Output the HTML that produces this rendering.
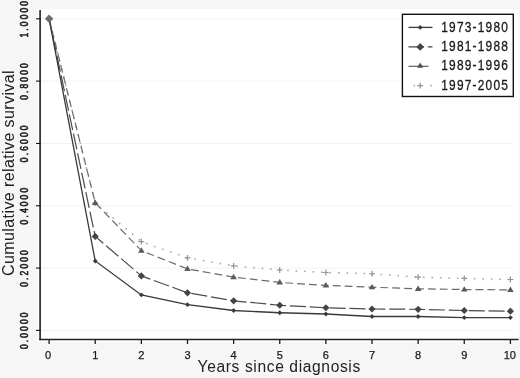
<!DOCTYPE html>
<html><head><meta charset="utf-8"><title>Cumulative relative survival</title>
<style>
html,body{margin:0;padding:0;background:#f6f6f6;}
svg{display:block;}
text{font-family:"Liberation Sans",Arial,sans-serif;fill:#1a1a1a;stroke:#1a1a1a;stroke-width:0.6px;}
text.t{stroke:none;fill:#222;}
text.lg{stroke-width:0.3px;}
text.xt{stroke-width:0.25px;}
</style></head>
<body>
<svg width="520" height="378" viewBox="0 0 520 378">
<rect x="0" y="0" width="520" height="378" fill="#f6f6f6"/>
<rect x="37.5" y="9" width="482.5" height="333" fill="#ffffff"/>
<rect x="518.6" y="9" width="1.4" height="333" fill="#f8f8f8"/>
<line x1="512.7" x2="512.7" y1="96" y2="339" stroke="#fafafa" stroke-width="1"/>
<line x1="41" x2="512.7" y1="330.40" y2="330.40" stroke="#f2f2f2" stroke-width="1"/>
<line x1="41" x2="512.7" y1="268.08" y2="268.08" stroke="#f2f2f2" stroke-width="1"/>
<line x1="41" x2="512.7" y1="205.76" y2="205.76" stroke="#f2f2f2" stroke-width="1"/>
<line x1="41" x2="512.7" y1="143.44" y2="143.44" stroke="#f2f2f2" stroke-width="1"/>
<line x1="41" x2="512.7" y1="81.12" y2="81.12" stroke="#f2f2f2" stroke-width="1"/>
<line x1="41" x2="512.7" y1="18.80" y2="18.80" stroke="#f2f2f2" stroke-width="1"/>
<polyline points="49.10,18.80 95.23,203.00 141.36,241.70 187.49,257.90 233.62,265.80 279.75,270.00 325.88,272.50 372.01,273.75 418.14,277.20 464.27,278.40 510.40,279.50" fill="none" stroke="#a8a8a8" stroke-width="1.6" stroke-dasharray="1.6,6.9" stroke-dashoffset="0"/>
<polyline points="49.10,18.80 95.23,202.80 141.36,250.60 187.49,268.90 233.62,277.10 279.75,282.40 325.88,285.40 372.01,287.20 418.14,288.80 464.27,289.50 510.40,289.90" fill="none" stroke="#6a6a6a" stroke-width="1.2" stroke-dasharray="7.8,4.1" stroke-dashoffset="0.01"/>
<polyline points="49.10,18.80 95.23,236.40 141.36,275.90 187.49,292.80 233.62,300.80 279.75,305.25 325.88,307.75 372.01,309.00 418.14,309.30 464.27,310.50 510.40,311.20" fill="none" stroke="#4a4a4a" stroke-width="1.2" stroke-dasharray="16.1,3.78" stroke-dashoffset="1.79"/>
<polyline points="49.10,18.80 95.23,261.00 141.36,294.90 187.49,304.70 233.62,310.50 279.75,312.75 325.88,314.00 372.01,316.50 418.14,316.50 464.27,317.60 510.40,317.60" fill="none" stroke="#3a3a3a" stroke-width="1.3"/>
<path d="M92.33,203.00H98.13M95.23,200.10V205.90" stroke="#929292" stroke-width="1.2" fill="none"/>
<path d="M95.23,199.50L98.53,204.90L91.93,204.90Z" fill="#5a5a5a"/>
<path d="M95.23,232.80L98.83,236.40L95.23,240.00L91.63,236.40Z" fill="#444444"/>
<path d="M95.23,258.60L97.63,261.00L95.23,263.40L92.83,261.00Z" fill="#3a3a3a"/>
<path d="M138.46,241.70H144.26M141.36,238.80V244.60" stroke="#929292" stroke-width="1.2" fill="none"/>
<path d="M141.36,247.30L144.66,252.70L138.06,252.70Z" fill="#5a5a5a"/>
<path d="M141.36,272.30L144.96,275.90L141.36,279.50L137.76,275.90Z" fill="#444444"/>
<path d="M141.36,292.50L143.76,294.90L141.36,297.30L138.96,294.90Z" fill="#3a3a3a"/>
<path d="M184.59,257.90H190.39M187.49,255.00V260.80" stroke="#929292" stroke-width="1.2" fill="none"/>
<path d="M187.49,265.60L190.79,271.00L184.19,271.00Z" fill="#5a5a5a"/>
<path d="M187.49,289.20L191.09,292.80L187.49,296.40L183.89,292.80Z" fill="#444444"/>
<path d="M187.49,302.30L189.89,304.70L187.49,307.10L185.09,304.70Z" fill="#3a3a3a"/>
<path d="M230.72,265.80H236.52M233.62,262.90V268.70" stroke="#929292" stroke-width="1.2" fill="none"/>
<path d="M233.62,273.80L236.92,279.20L230.32,279.20Z" fill="#5a5a5a"/>
<path d="M233.62,297.20L237.22,300.80L233.62,304.40L230.02,300.80Z" fill="#444444"/>
<path d="M233.62,308.10L236.02,310.50L233.62,312.90L231.22,310.50Z" fill="#3a3a3a"/>
<path d="M276.85,270.00H282.65M279.75,267.10V272.90" stroke="#929292" stroke-width="1.2" fill="none"/>
<path d="M279.75,279.10L283.05,284.50L276.45,284.50Z" fill="#5a5a5a"/>
<path d="M279.75,301.65L283.35,305.25L279.75,308.85L276.15,305.25Z" fill="#444444"/>
<path d="M279.75,310.35L282.15,312.75L279.75,315.15L277.35,312.75Z" fill="#3a3a3a"/>
<path d="M322.98,272.50H328.78M325.88,269.60V275.40" stroke="#929292" stroke-width="1.2" fill="none"/>
<path d="M325.88,282.10L329.18,287.50L322.58,287.50Z" fill="#5a5a5a"/>
<path d="M325.88,304.15L329.48,307.75L325.88,311.35L322.28,307.75Z" fill="#444444"/>
<path d="M325.88,311.60L328.28,314.00L325.88,316.40L323.48,314.00Z" fill="#3a3a3a"/>
<path d="M369.11,273.75H374.91M372.01,270.85V276.65" stroke="#929292" stroke-width="1.2" fill="none"/>
<path d="M372.01,283.90L375.31,289.30L368.71,289.30Z" fill="#5a5a5a"/>
<path d="M372.01,305.40L375.61,309.00L372.01,312.60L368.41,309.00Z" fill="#444444"/>
<path d="M372.01,314.10L374.41,316.50L372.01,318.90L369.61,316.50Z" fill="#3a3a3a"/>
<path d="M415.24,277.20H421.04M418.14,274.30V280.10" stroke="#929292" stroke-width="1.2" fill="none"/>
<path d="M418.14,285.50L421.44,290.90L414.84,290.90Z" fill="#5a5a5a"/>
<path d="M418.14,305.70L421.74,309.30L418.14,312.90L414.54,309.30Z" fill="#444444"/>
<path d="M418.14,314.10L420.54,316.50L418.14,318.90L415.74,316.50Z" fill="#3a3a3a"/>
<path d="M461.37,278.40H467.17M464.27,275.50V281.30" stroke="#929292" stroke-width="1.2" fill="none"/>
<path d="M464.27,286.20L467.57,291.60L460.97,291.60Z" fill="#5a5a5a"/>
<path d="M464.27,306.90L467.87,310.50L464.27,314.10L460.67,310.50Z" fill="#444444"/>
<path d="M464.27,315.20L466.67,317.60L464.27,320.00L461.87,317.60Z" fill="#3a3a3a"/>
<path d="M507.50,279.50H513.30M510.40,276.60V282.40" stroke="#929292" stroke-width="1.2" fill="none"/>
<path d="M510.40,286.60L513.70,292.00L507.10,292.00Z" fill="#5a5a5a"/>
<path d="M510.40,307.60L514.00,311.20L510.40,314.80L506.80,311.20Z" fill="#444444"/>
<path d="M510.40,315.20L512.80,317.60L510.40,320.00L508.00,317.60Z" fill="#3a3a3a"/>
<path d="M49.10,14.60L53.30,18.80L49.10,23.00L44.90,18.80Z" fill="#6c6c6c"/>
<line x1="40.1" y1="10" x2="40.1" y2="340.3" stroke="#383838" stroke-width="1.8"/>
<line x1="39.2" y1="339.6" x2="518.6" y2="339.6" stroke="#222" stroke-width="1.5"/>
<line x1="36" x2="40.5" y1="330.40" y2="330.40" stroke="#111" stroke-width="1.1"/>
<text transform="translate(27.9,330.80) rotate(-90) scale(0.85,1)" text-anchor="middle" font-size="10" textLength="43.06" lengthAdjust="spacing">0.0000</text>
<line x1="36" x2="40.5" y1="268.08" y2="268.08" stroke="#111" stroke-width="1.1"/>
<text transform="translate(27.9,268.48) rotate(-90) scale(0.85,1)" text-anchor="middle" font-size="10" textLength="43.06" lengthAdjust="spacing">0.2000</text>
<line x1="36" x2="40.5" y1="205.76" y2="205.76" stroke="#111" stroke-width="1.1"/>
<text transform="translate(27.9,206.16) rotate(-90) scale(0.85,1)" text-anchor="middle" font-size="10" textLength="43.06" lengthAdjust="spacing">0.4000</text>
<line x1="36" x2="40.5" y1="143.44" y2="143.44" stroke="#111" stroke-width="1.1"/>
<text transform="translate(27.9,143.84) rotate(-90) scale(0.85,1)" text-anchor="middle" font-size="10" textLength="43.06" lengthAdjust="spacing">0.6000</text>
<line x1="36" x2="40.5" y1="81.12" y2="81.12" stroke="#111" stroke-width="1.1"/>
<text transform="translate(27.9,81.52) rotate(-90) scale(0.85,1)" text-anchor="middle" font-size="10" textLength="43.06" lengthAdjust="spacing">0.8000</text>
<line x1="36" x2="40.5" y1="18.80" y2="18.80" stroke="#111" stroke-width="1.1"/>
<text transform="translate(27.9,19.20) rotate(-90) scale(0.85,1)" text-anchor="middle" font-size="10" textLength="43.06" lengthAdjust="spacing">1.0000</text>
<line x1="49.10" x2="49.10" y1="340" y2="344" stroke="#1a1a1a" stroke-width="1.3"/>
<text x="48.10" y="358.7" text-anchor="middle" font-size="11" class="xt">0</text>
<line x1="95.23" x2="95.23" y1="340" y2="344" stroke="#1a1a1a" stroke-width="1.3"/>
<text x="95.23" y="358.7" text-anchor="middle" font-size="11" class="xt">1</text>
<line x1="141.36" x2="141.36" y1="340" y2="344" stroke="#1a1a1a" stroke-width="1.3"/>
<text x="141.36" y="358.7" text-anchor="middle" font-size="11" class="xt">2</text>
<line x1="187.49" x2="187.49" y1="340" y2="344" stroke="#1a1a1a" stroke-width="1.3"/>
<text x="187.49" y="358.7" text-anchor="middle" font-size="11" class="xt">3</text>
<line x1="233.62" x2="233.62" y1="340" y2="344" stroke="#1a1a1a" stroke-width="1.3"/>
<text x="233.62" y="358.7" text-anchor="middle" font-size="11" class="xt">4</text>
<line x1="279.75" x2="279.75" y1="340" y2="344" stroke="#1a1a1a" stroke-width="1.3"/>
<text x="279.75" y="358.7" text-anchor="middle" font-size="11" class="xt">5</text>
<line x1="325.88" x2="325.88" y1="340" y2="344" stroke="#1a1a1a" stroke-width="1.3"/>
<text x="325.88" y="358.7" text-anchor="middle" font-size="11" class="xt">6</text>
<line x1="372.01" x2="372.01" y1="340" y2="344" stroke="#1a1a1a" stroke-width="1.3"/>
<text x="372.01" y="358.7" text-anchor="middle" font-size="11" class="xt">7</text>
<line x1="418.14" x2="418.14" y1="340" y2="344" stroke="#1a1a1a" stroke-width="1.3"/>
<text x="418.14" y="358.7" text-anchor="middle" font-size="11" class="xt">8</text>
<line x1="464.27" x2="464.27" y1="340" y2="344" stroke="#1a1a1a" stroke-width="1.3"/>
<text x="464.27" y="358.7" text-anchor="middle" font-size="11" class="xt">9</text>
<line x1="510.40" x2="510.40" y1="340" y2="344" stroke="#1a1a1a" stroke-width="1.3"/>
<text x="509.80" y="358.7" text-anchor="middle" font-size="11" class="xt">10</text>
<text class="t" x="197.6" y="371.5" font-size="15.6" textLength="162.6" lengthAdjust="spacing">Years since diagnosis</text>
<text class="t" transform="translate(14.2,275.9) rotate(-90)" font-size="16" textLength="205.5" lengthAdjust="spacing">Cumulative relative survival</text>
<rect x="402.4" y="14.3" width="110.9" height="82.2" fill="#fff" stroke="#111" stroke-width="1.4"/>
<line x1="408.5" x2="432.5" y1="27.4" y2="27.4" stroke="#3a3a3a" stroke-width="1.3"/>
<path d="M420.20,25.00L422.60,27.40L420.20,29.80L417.80,27.40Z" fill="#3a3a3a"/>
<line x1="408.5" x2="432.5" y1="46.9" y2="46.9" stroke="#444444" stroke-width="1.3" stroke-dasharray="15.6,3.7"/>
<path d="M420.20,43.10L424.00,46.90L420.20,50.70L416.40,46.90Z" fill="#444444"/>
<line x1="408.5" x2="428.5" y1="66.3" y2="66.3" stroke="#6a6a6a" stroke-width="1.3"/>
<path d="M420.20,62.40L423.30,67.70L417.10,67.70Z" fill="#505050"/>
<circle cx="414.3" cy="85.6" r="1.1" fill="#bcbcbc"/><circle cx="431" cy="85.6" r="1.1" fill="#bcbcbc"/>
<path d="M417.30,85.60H423.10M420.20,82.70V88.50" stroke="#929292" stroke-width="1.2" fill="none"/>
<text class="lg" transform="translate(441.3,31.5) scale(0.87,1)" font-size="13.7" textLength="76.55" lengthAdjust="spacing">1973-1980</text>
<text class="lg" transform="translate(441.3,50.8) scale(0.87,1)" font-size="13.7" textLength="76.55" lengthAdjust="spacing">1981-1988</text>
<text class="lg" transform="translate(441.3,70.2) scale(0.87,1)" font-size="13.7" textLength="76.55" lengthAdjust="spacing">1989-1996</text>
<text class="lg" transform="translate(441.3,89.5) scale(0.87,1)" font-size="13.7" textLength="76.55" lengthAdjust="spacing">1997-2005</text>
</svg>
</body></html>
